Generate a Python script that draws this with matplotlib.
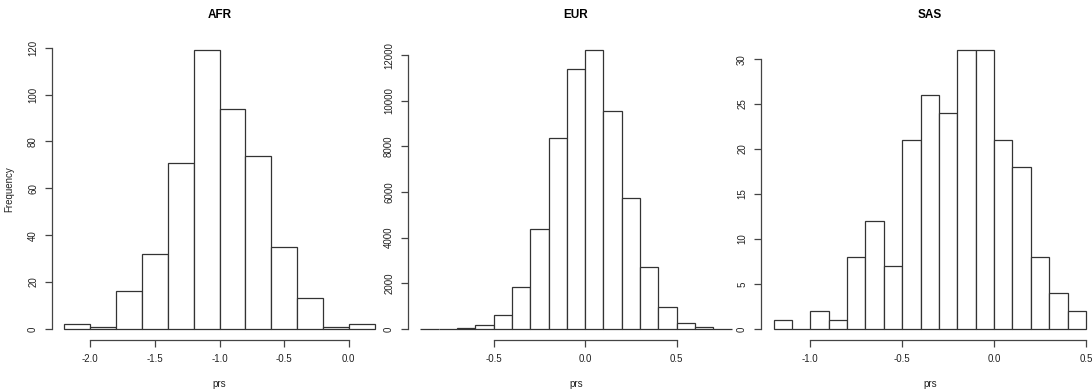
import numpy as np
import matplotlib
matplotlib.use("Agg")
import matplotlib.pyplot as plt

plt.rcParams['font.family'] = ['Liberation Sans', 'DejaVu Sans']

# histogram counts
afr_start, afr_width = -2.2, 0.2
afr_counts = [2, 1, 16, 32, 71, 119, 94, 74, 35, 13, 1, 2]
afr_xticks = [-2.0, -1.5, -1.0, -0.5, 0.0]
afr_yticks = [0, 20, 40, 60, 80, 100, 120]

eur_start, eur_width = -0.9, 0.1
eur_counts = [2, 8, 30, 155, 597, 1820, 4398, 8373, 11402, 12218, 9553,
              5738, 2694, 947, 248, 73, 12]
eur_xticks = [-0.5, 0.0, 0.5]
eur_yticks = [0, 2000, 4000, 6000, 8000, 10000, 12000]

sas_start, sas_width = -1.2, 0.1
sas_counts = [1, 0, 2, 1, 8, 12, 7, 21, 26, 24, 31, 31, 21, 18, 8, 4, 2]
sas_xticks = [-1.0, -0.5, 0.0, 0.5]
sas_yticks = [0, 5, 10, 15, 20, 25, 30]

titles = ["AFR", "EUR", "SAS"]

fig = plt.figure(figsize=(10.92, 3.92), dpi=100)
W, H = 1092.0, 392.0
bottom = 1 - 340 / H
height = (340 - 39) / H
lefts = [52, 408, 761]
rights = [387, 744, 1098.5]

panels = [
    (afr_start, afr_width, afr_counts, afr_xticks, afr_yticks),
    (eur_start, eur_width, eur_counts, eur_xticks, eur_yticks),
    (sas_start, sas_width, sas_counts, sas_xticks, sas_yticks),
]

for i, (start, width, counts, xt, yt) in enumerate(panels):
    ax = fig.add_axes([lefts[i] / W, bottom, (rights[i] - lefts[i]) / W, height])
    n = len(counts)
    edges = start + width * np.arange(n + 1)
    ax.bar(edges[:-1], counts, width=width, align='edge', color='white',
           edgecolor='#333333', linewidth=0.9)
    # R style 4% padding
    xr = edges[-1] - edges[0]
    ax.set_xlim(edges[0] - 0.04 * xr, edges[-1] + 0.04 * xr)
    ymax = max(counts)
    ax.set_ylim(-0.04 * ymax, ymax * 1.04)

    for s in ['top', 'right']:
        ax.spines[s].set_visible(False)
    ax.spines['left'].set_bounds(yt[0], yt[-1])
    ax.spines['bottom'].set_bounds(xt[0], xt[-1])
    for s in ['left', 'bottom']:
        ax.spines[s].set_color('#444444')
        ax.spines[s].set_linewidth(0.9)

    ax.set_xticks(xt)
    ax.set_xticklabels([f"{v:.1f}" for v in xt])
    ax.set_yticks(yt)
    ax.set_yticklabels([str(v) for v in yt])
    ax.tick_params(direction='out', length=5, width=0.9, color='#444444',
                   labelsize=7, pad=5, labelcolor='#222222')
    for lab in ax.get_yticklabels():
        lab.set_rotation(90)
        lab.set_va('center')

    ax.set_title(titles[i], fontsize=8.5, fontweight='bold', pad=15)
    ax.set_xlabel("prs", fontsize=7, labelpad=11, color='#222222')
    if i == 0:
        ax.set_ylabel("Frequency", fontsize=7, labelpad=10, color='#222222')

fig.savefig("out.png", dpi=100)
